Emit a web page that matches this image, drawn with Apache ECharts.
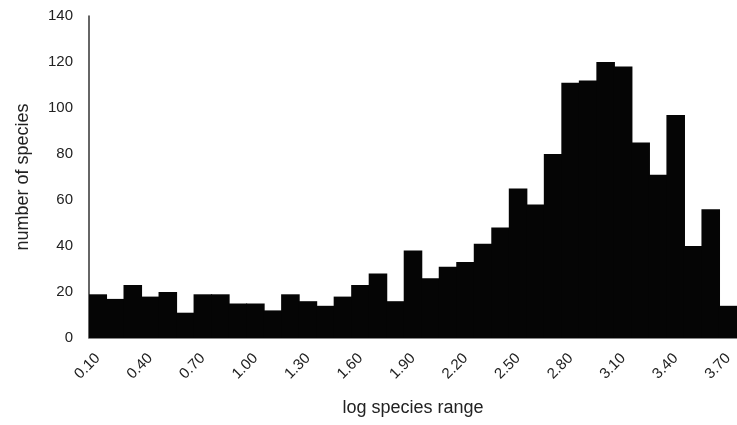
<!DOCTYPE html>
<html lang="en" style="height: 100%">
<head>
  <meta charset="utf-8" />
  <title>log species range histogram</title>
</head>
<body style="height: 100%; margin: 0; background: #fff">
  <div id="container" style="width: 737px; height: 425px"></div>

  <script src="https://cdn.jsdelivr.net/npm/echarts@6/dist/echarts.min.js"></script>

  <script>
    // bin labels, 0.10 .. 3.70
    const categories = [
      '0.10', '0.20', '0.30', '0.40', '0.50', '0.60', '0.70', '0.80', '0.90', '1.00',
      '1.10', '1.20', '1.30', '1.40', '1.50', '1.60', '1.70', '1.80', '1.90', '2.00',
      '2.10', '2.20', '2.30', '2.40', '2.50', '2.60', '2.70', '2.80', '2.90', '3.00',
      '3.10', '3.20', '3.30', '3.40', '3.50', '3.60', '3.70'
    ];

    // number of species per bin
    const counts = [
      19, 17, 23, 18, 20, 11, 19, 19, 15, 15,
      12, 19, 16, 14, 18, 23, 28, 16, 38, 26,
      31, 33, 41, 48, 65, 58, 80, 111, 112, 120,
      118, 85, 71, 97, 40, 56, 14
    ];

    const yTicks = [0, 20, 40, 60, 80, 100, 120, 140];

    var dom = document.getElementById('container');
    var myChart = echarts.init(dom);

    const font = 'Liberation Sans, Arial, sans-serif';

    var option = {
      animation: false,
      grid: {
        left: 89,
        top: 16,
        width: 653,
        height: 322
      },
      xAxis: {
        type: 'category',
        data: categories,
        name: 'log species range',
        nameLocation: 'middle',
        nameGap: 61,
        nameTextStyle: { color: '#222', fontSize: 18, fontFamily: font },
        axisLine: { show: true, lineStyle: { color: '#888', width: 1 } },
        axisTick: { show: false },
        axisLabel: {
          interval: 2,
          rotate: 45,
          margin: 18,
          color: '#222',
          fontSize: 15,
          fontFamily: font
        },
        splitLine: { show: false }
      },
      yAxis: {
        type: 'value',
        min: yTicks[0],
        max: yTicks[yTicks.length - 1],
        interval: 20,
        name: 'number of species',
        nameLocation: 'middle',
        nameGap: 57,
        nameTextStyle: { color: '#222', fontSize: 18, fontFamily: font },
        axisLine: { show: true, lineStyle: { color: '#333', width: 1.5 } },
        axisTick: { show: false },
        axisLabel: {
          margin: 16,
          color: '#222',
          fontSize: 15,
          fontFamily: font
        },
        splitLine: { show: false }
      },
      series: [
        {
          type: 'bar',
          data: counts,
          barWidth: '106%',
          barGap: '-100%',
          itemStyle: { color: '#050505' }
        }
      ]
    };

    myChart.setOption(option);

    window.onresize = function() {
      myChart.resize();
    };
  </script>
</body>
</html>
